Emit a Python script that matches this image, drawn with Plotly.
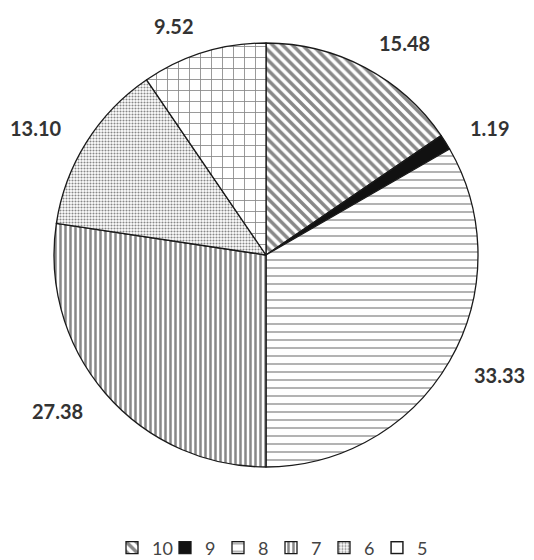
import math
import plotly.graph_objects as go

categories = ["10", "9", "8", "7", "6", "5"]
values = [15.48, 1.19, 33.33, 27.38, 13.10, 9.52]

pattern_shapes = ["\\", "", "-", "|", ".", "+"]
pattern_sizes = [7, 6, 8, 5, 3, 11]
pattern_solidity = [0.5, 0.3, 0.16, 0.5, 0.38, 0.15]
base_colors = ["white", "#111111", "white", "white", "white", "white"]

fig = go.Figure(go.Pie(
    labels=categories,
    values=values,
    sort=False,
    direction="clockwise",
    rotation=0,
    marker=dict(
        colors=base_colors,
        line=dict(color="#1a1a1a", width=1.3),
        pattern=dict(shape=pattern_shapes, size=pattern_sizes,
                     solidity=pattern_solidity, fgcolor="#111111",
                     bgcolor="white", fillmode="overlay"),
    ),
    textinfo="none",
    hoverinfo="label+value",
    domain=dict(x=[0, 1], y=[0, 1]),
))

# value labels: anchored just outside each slice's mid-angle (angles derived from data)
total = sum(values)
cum = 0.0
anchor_r = 0.5 * 1.13
for v in values:
    mid = (cum + v / 2) / total * 2 * math.pi
    cum += v
    sx, cy = math.sin(mid), math.cos(mid)
    fig.add_annotation(
        x=0.5 + anchor_r * sx, y=0.5 + anchor_r * cy,
        xref="paper", yref="paper", showarrow=False,
        text=f"<b>{v:.2f}</b>", borderpad=0,
        font=dict(family="Lato", size=20, color="#333333"),
        xanchor="left" if sx >= 0 else "right",
        yanchor="middle",
    )

fig.update_layout(
    width=526, height=552,
    margin=dict(l=46, r=56, t=35, b=93),
    paper_bgcolor="white",
    plot_bgcolor="white",
    showlegend=True,
    legend=dict(orientation="h", x=0.5, xanchor="center",
                xref="container", yref="container", y=0.022, yanchor="middle",
                font=dict(family="Lato", size=18, color="#444444"),
                itemwidth=30, entrywidth=8, traceorder="normal"),
)

fig.write_html("out.html")
